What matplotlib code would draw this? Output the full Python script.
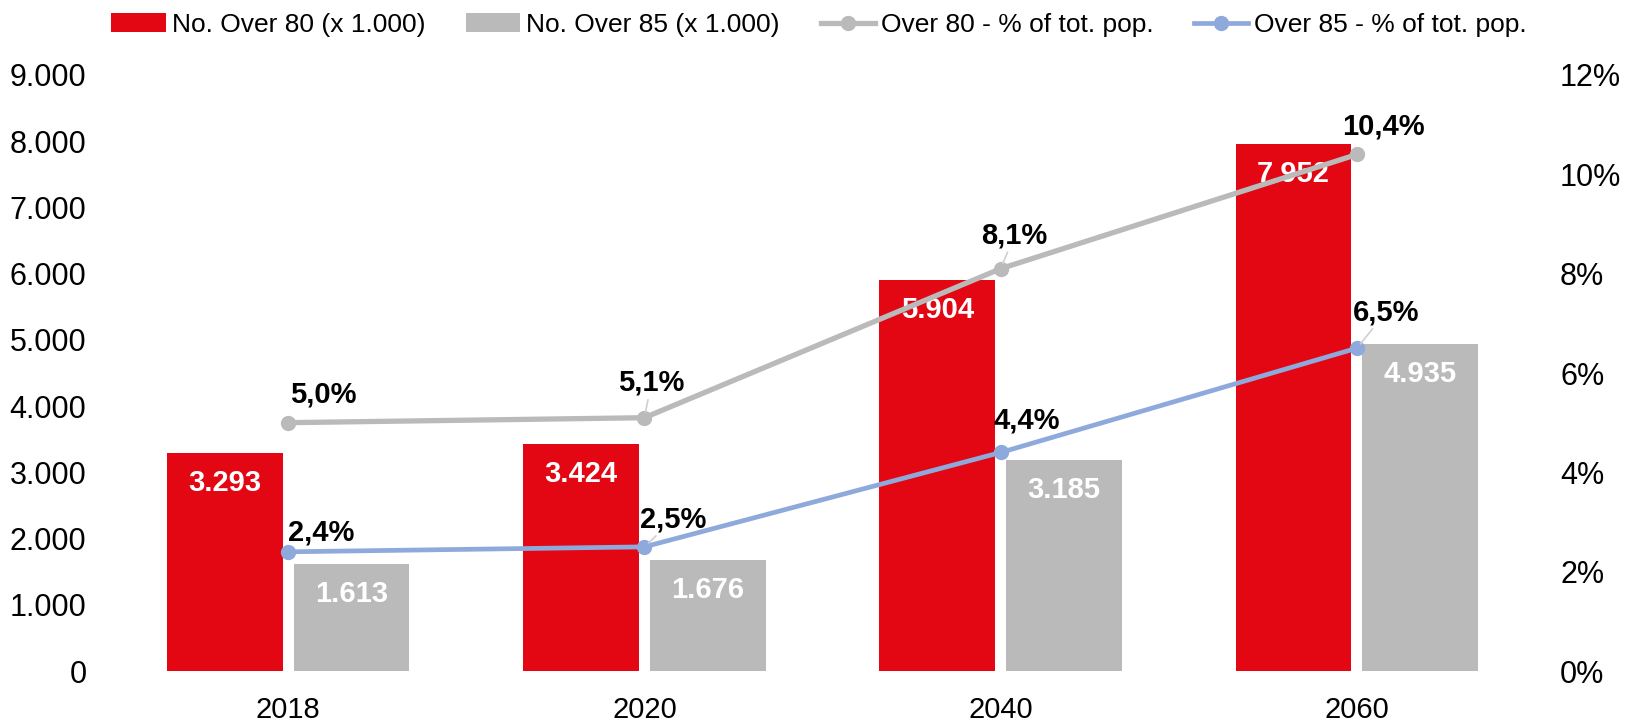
import numpy as np
from matplotlib import pyplot as plt
from matplotlib.ticker import FuncFormatter

years = ["2018", "2020", "2040", "2060"]
over80 = [3293, 3424, 5904, 7952]
over85 = [1613, 1676, 3185, 4935]
pct80 = [5.0, 5.1, 8.1, 10.4]
pct85 = [2.4, 2.5, 4.4, 6.5]

# label offsets in points (dx, dy), and whether Excel drew a leader line
offs80 = [(25, 20), (5, 25), (10, 24), (19, 20)]
lead80 = [False, True, True, False]
offs85 = [(24, 14), (21, 20), (19, 23), (21, 26)]
lead85 = [False, True, False, True]

RED = "#E30613"
GREY = "#BABABA"
BLUE = "#8EA9DB"

plt.rcParams["font.family"] = ["Liberation Sans", "DejaVu Sans"]

fig = plt.figure(figsize=(16.32, 7.21), dpi=100)
ax = fig.add_axes([0.0674, 0.0693, 0.8732, 0.8267])
ax2 = ax.twinx()

x = np.arange(len(years))
w = 0.325
off = 0.178
b1 = ax.bar(x - off, over80, w, color=RED, label="No. Over 80 (x 1.000)", zorder=2)
b2 = ax.bar(x + off, over85, w, color=GREY, label="No. Over 85 (x 1.000)", zorder=2)


def dots(v):
    return f"{int(v):,}".replace(",", ".")


for bars, vals in [(b1, over80), (b2, over85)]:
    for r, v in zip(bars, vals):
        ax.annotate(dots(v), (r.get_x() + r.get_width() / 2, v), xytext=(0, -21.5),
                    textcoords="offset points", ha="center", va="center",
                    color="white", fontsize=21, fontweight="bold", zorder=3)

ax.set_xlim(-0.5, 3.5)
ax.set_ylim(0, 9000)
ax.set_yticks(np.arange(0, 9001, 1000))
ax.yaxis.set_major_formatter(FuncFormatter(lambda v, p: dots(v)))
ax.set_xticks(x)
ax.set_xticklabels(years)

ax2.set_ylim(0, 0.12)
ax2.set_yticks(np.arange(0, 0.121, 0.02))
ax2.yaxis.set_major_formatter(FuncFormatter(lambda v, p: f"{v * 100:.0f}%"))

l1, = ax2.plot(x, np.array(pct80) / 100, color=GREY, lw=3.8, marker="o", ms=10,
               label="Over 80 - % of tot. pop.", zorder=4)
l2, = ax2.plot(x, np.array(pct85) / 100, color=BLUE, lw=3.4, marker="o", ms=10,
               label="Over 85 - % of tot. pop.", zorder=4)

for vals, offs, leads in [(pct80, offs80, lead80), (pct85, offs85, lead85)]:
    for i, v in enumerate(vals):
        arrow = None
        if leads[i]:
            arrow = dict(arrowstyle="-", color="#D0CECE", lw=1.2, shrinkA=0, shrinkB=4)
        ax2.annotate(f"{v:.1f}%".replace(".", ","), (i, v / 100), xytext=offs[i],
                     textcoords="offset points", ha="center", va="center",
                     fontsize=21, fontweight="bold", color="black",
                     arrowprops=arrow, zorder=5)

for a in (ax, ax2):
    for s in a.spines.values():
        s.set_visible(False)
    a.tick_params(length=0, labelsize=22, colors="black")
ax.tick_params(axis="y", pad=17)
ax2.tick_params(axis="y", pad=18)
ax.tick_params(axis="x", pad=18, labelsize=21)

fig.legend(handles=[b1, b2, l1, l2], loc="upper center", bbox_to_anchor=(0.502, 1.015),
           ncol=4, frameon=False, fontsize=19, handlelength=2.05, handletextpad=0.23,
           columnspacing=1.55)

fig.savefig("out.png", dpi=100)
